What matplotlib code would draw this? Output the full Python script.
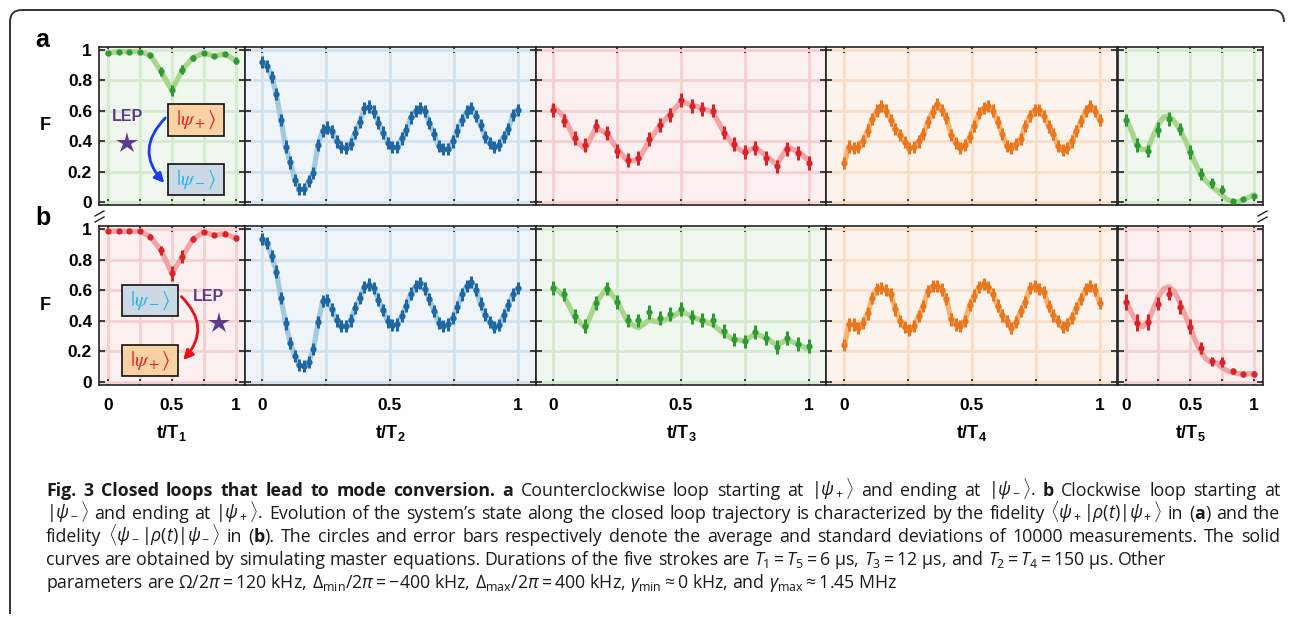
import numpy as np
import matplotlib.pyplot as plt
from matplotlib.patches import Rectangle, FancyArrowPatch, PathPatch
from matplotlib.path import Path
from matplotlib.lines import Line2D

plt.rcParams['font.family'] = ['Liberation Sans', 'DejaVu Sans']
plt.rcParams['mathtext.fontset'] = 'custom'
plt.rcParams['mathtext.rm'] = 'Open Sans'
plt.rcParams['mathtext.it'] = 'Open Sans:italic'
plt.rcParams['mathtext.bf'] = 'Liberation Sans:bold'

# ---------------- data ----------------
# stroke 1 (T1), 13 samples
t1 = np.linspace(0, 1, 13)
f1a = [0.98, 0.99, 0.99, 0.99, 0.965, 0.86, 0.735, 0.87, 0.95, 0.98, 0.96, 0.975, 0.93]
e1a = [0.012, 0.01, 0.01, 0.01, 0.015, 0.03, 0.035, 0.03, 0.02, 0.012, 0.015, 0.012, 0.025]
f1b = [0.985, 0.985, 0.985, 0.985, 0.95, 0.86, 0.71, 0.82, 0.935, 0.98, 0.96, 0.97, 0.94]
e1b = [0.012, 0.01, 0.01, 0.01, 0.015, 0.03, 0.05, 0.04, 0.02, 0.015, 0.015, 0.015, 0.02]

# stroke 2 (T2), 56 samples
t2 = np.linspace(0, 1, 56)
f2a = [0.923, 0.895, 0.825, 0.711, 0.54, 0.365, 0.26, 0.147, 0.085, 0.085,
       0.14, 0.19, 0.376, 0.47, 0.49, 0.464, 0.398, 0.36, 0.355, 0.383,
       0.457, 0.527, 0.617, 0.628, 0.595, 0.523, 0.457, 0.39, 0.36, 0.36,
       0.418, 0.475, 0.556, 0.60, 0.617, 0.60, 0.519, 0.446, 0.37, 0.348,
       0.348, 0.398, 0.47, 0.54, 0.595, 0.617, 0.567, 0.508, 0.43, 0.387,
       0.36, 0.374, 0.43, 0.479, 0.573, 0.606]
f2b = [0.935, 0.909, 0.826, 0.722, 0.55, 0.383, 0.257, 0.17, 0.109, 0.104,
       0.13, 0.213, 0.39, 0.528, 0.535, 0.474, 0.402, 0.365, 0.365, 0.402,
       0.485, 0.55, 0.622, 0.637, 0.615, 0.539, 0.47, 0.396, 0.37, 0.376,
       0.43, 0.5, 0.578, 0.626, 0.648, 0.611, 0.543, 0.463, 0.387, 0.365,
       0.376, 0.42, 0.489, 0.572, 0.626, 0.652, 0.604, 0.513, 0.441, 0.391,
       0.361, 0.37, 0.435, 0.502, 0.572, 0.613]
e2 = 0.04

# stroke 3 (T3), 25 samples, dots and simulated curve
t3 = np.linspace(0, 1, 25)
f3a = [0.606, 0.536, 0.42, 0.376, 0.503, 0.453, 0.337, 0.274, 0.289, 0.414, 0.508, 0.573, 0.672,
       0.632, 0.613, 0.602, 0.457, 0.383, 0.328, 0.355, 0.289, 0.234, 0.348, 0.322, 0.256]
c3a = [0.628, 0.562, 0.41, 0.348, 0.49, 0.45, 0.35, 0.267, 0.278, 0.40, 0.503, 0.58, 0.661,
       0.639, 0.617, 0.589, 0.464, 0.365, 0.326, 0.361, 0.304, 0.245, 0.361, 0.333, 0.274]
f3b = [0.615, 0.572, 0.43, 0.365, 0.517, 0.611, 0.522, 0.402, 0.402, 0.457, 0.417, 0.443, 0.478,
       0.426, 0.404, 0.404, 0.333, 0.278, 0.265, 0.328, 0.289, 0.23, 0.285, 0.25, 0.235]
c3b = [0.622, 0.561, 0.426, 0.354, 0.517, 0.615, 0.528, 0.391, 0.354, 0.404, 0.391, 0.42, 0.463,
       0.43, 0.4, 0.376, 0.317, 0.274, 0.272, 0.315, 0.289, 0.239, 0.278, 0.246, 0.213]
e3 = 0.045

# stroke 4 (T4), 56 samples
t4 = np.linspace(0, 1, 56)
f4a = [0.256, 0.365, 0.354, 0.361, 0.403, 0.47, 0.545, 0.602, 0.632, 0.602,
       0.54, 0.479, 0.442, 0.392, 0.354, 0.361, 0.398, 0.446, 0.529, 0.595,
       0.643, 0.606, 0.551, 0.442, 0.387, 0.354, 0.376, 0.427, 0.501, 0.584,
       0.617, 0.632, 0.602, 0.529, 0.446, 0.37, 0.354, 0.381, 0.416, 0.501,
       0.567, 0.606, 0.606, 0.567, 0.497, 0.446, 0.37, 0.344, 0.354, 0.398,
       0.468, 0.534, 0.6, 0.632, 0.6, 0.54]
f4b = [0.24, 0.376, 0.376, 0.354, 0.387, 0.448, 0.55, 0.609, 0.615, 0.6,
       0.572, 0.474, 0.398, 0.361, 0.339, 0.365, 0.43, 0.496, 0.593, 0.626,
       0.63, 0.604, 0.543, 0.409, 0.376, 0.365, 0.398, 0.502, 0.565, 0.622,
       0.643, 0.622, 0.572, 0.5, 0.435, 0.398, 0.354, 0.391, 0.463, 0.522,
       0.615, 0.63, 0.609, 0.587, 0.496, 0.435, 0.398, 0.361, 0.376, 0.42,
       0.485, 0.543, 0.609, 0.63, 0.604, 0.517]
e4 = 0.04

# stroke 5 (T5), 13 samples, curve on a finer grid
t5 = np.linspace(0, 1, 13)
f5a = [0.54, 0.374, 0.333, 0.475, 0.547, 0.479, 0.328, 0.184, 0.125, 0.081, 0.007, 0.02, 0.04]
e5a = [0.04, 0.045, 0.04, 0.05, 0.045, 0.04, 0.045, 0.04, 0.03, 0.03, 0.01, 0.01, 0.015]
f5b = [0.522, 0.387, 0.393, 0.513, 0.578, 0.489, 0.361, 0.224, 0.135, 0.13, 0.072, 0.05, 0.054]
e5b = [0.05, 0.055, 0.05, 0.045, 0.04, 0.045, 0.05, 0.04, 0.03, 0.03, 0.02, 0.015, 0.02]
tc5 = np.linspace(0, 1, 25)
c5a = [0.54, 0.464, 0.37, 0.344, 0.35, 0.433, 0.51, 0.56, 0.567, 0.53, 0.48, 0.41, 0.328,
       0.252, 0.18, 0.136, 0.103, 0.077, 0.044, 0.015, 0.002, 0.0, 0.015, 0.03, 0.048]
c5b = [0.528, 0.448, 0.387, 0.361, 0.391, 0.474, 0.557, 0.609, 0.622, 0.593, 0.522, 0.441, 0.354,
       0.267, 0.196, 0.148, 0.13, 0.122, 0.093, 0.072, 0.061, 0.054, 0.053, 0.053, 0.055]

xticks = [0, 0.25, 0.5, 0.75, 1]
xticklabels = ['0', '', '0.5', '', '1']
yticks = [0, 0.2, 0.4, 0.6, 0.8, 1]
yticklabels = ['0', '0.2', '0.4', '0.6', '0.8', '1']
xlabels = [r'$\mathbf{t/T_1}$', r'$\mathbf{t/T_2}$', r'$\mathbf{t/T_3}$', r'$\mathbf{t/T_4}$', r'$\mathbf{t/T_5}$']

palette = {
    'green': dict(face='#f0f7ee', grid='#d6eacf', dot='#2f9a35', line='#a9d68c'),
    'blue': dict(face='#eff4f9', grid='#d2e1ee', dot='#1f67a3', line='#a3cbe0'),
    'red': dict(face='#fbefef', grid='#f6d0d0', dot='#d8232a', line='#f2a3a3'),
    'orange': dict(face='#fcf3ec', grid='#f8ddc7', dot='#e9771f', line='#f6b46e'),
}

rows = [
    [(t1, f1a, e1a, t1, f1a, 'green'), (t2, f2a, e2, t2, f2a, 'blue'),
     (t3, f3a, e3, t3, c3a, 'red'), (t4, f4a, e4, t4, f4a, 'orange'),
     (t5, f5a, e5a, tc5, c5a, 'green')],
    [(t1, f1b, e1b, t1, f1b, 'red'), (t2, f2b, e2, t2, f2b, 'blue'),
     (t3, f3b, e3, t3, c3b, 'green'), (t4, f4b, e4, t4, f4b, 'orange'),
     (t5, f5b, e5b, tc5, c5b, 'red')],
]

# ---------------- layout (pixels) ----------------
W, H = 1292, 620
fig = plt.figure(figsize=(W / 100, H / 100), dpi=100)


def px_rect(x, y, w, h):
    return [x / W, 1 - (y + h) / H, w / W, h / H]


col_left = [99, 244.5, 535.5, 826.5, 1117.5]
col_width = [145.5, 291, 291, 291, 145.5]
row_top = [47, 226]
row_height = [158, 159]

axes = {}
for r, panels in enumerate(rows):
    for c, (t, f, e, tc, fc, col) in enumerate(panels):
        st = palette[col]
        ax = fig.add_axes(px_rect(col_left[c], row_top[r], col_width[c], row_height[r]))
        ax.set_facecolor(st['face'])
        ax.grid(True, color=st['grid'], lw=2)
        ax.set_axisbelow(True)
        ax.plot(tc, fc, color=st['line'], lw=3.8, solid_capstyle='round', zorder=2)
        ax.errorbar(t, f, yerr=e, fmt='o', color=st['dot'], ms=4.5, mew=0,
                    elinewidth=2.2, capsize=0, zorder=3)
        ax.set_xlim(-0.07, 1.07)
        ax.set_ylim(-0.02, 1.02)
        ax.set_xticks(xticks)
        ax.set_yticks(yticks)
        ax.tick_params(direction='in', length=4, width=1.2, top=True, right=True,
                       color='#222222')
        ax.tick_params(axis='x', pad=9)
        ax.tick_params(axis='y', pad=5)
        for sp in ax.spines.values():
            sp.set_linewidth(1.2)
            sp.set_color('#222222')
        if r == 1:
            ax.set_xticklabels(xticklabels, fontsize=12.5, fontweight='bold')
            ax.set_xlabel(xlabels[c], fontsize=13)
            ax.xaxis.set_label_coords(0.5, -0.30)
            ax.xaxis.label.set_va('center')
        else:
            ax.set_xticklabels([])
        if c == 0:
            ax.set_yticklabels(yticklabels, fontsize=12.5, fontweight='bold')
            ax.set_ylabel('F', fontsize=13, fontweight='bold', rotation=0,
                          ha='center', va='center')
            ax.yaxis.set_label_coords(-0.37, 0.5)
        else:
            ax.set_yticklabels([])
        axes[(r, c)] = ax

# ---------------- insets in the first column ----------------
purple = '#5e3a8c'
ket_p = r'$|\psi_+\rangle$'
ket_m = r'$|\psi_-\rangle$'


def ket_box(ax, x0, x1, y0, y1, face, label, color):
    ax.add_patch(Rectangle((x0, y0), x1 - x0, y1 - y0, facecolor=face, edgecolor='#111111',
                           lw=1.2, zorder=5))
    ax.text((x0 + x1) / 2, (y0 + y1) / 2, label, color=color, fontsize=15,
            math_fontfamily='stix', ha='center', va='center', zorder=6)


ax = axes[(0, 0)]
ket_box(ax, 0.47, 0.913, 0.434, 0.645, '#f8d2a2', ket_p, '#e8202a')
ket_box(ax, 0.47, 0.913, 0.046, 0.25, '#cbd9e4', ket_m, '#2ab4e6')
ax.add_patch(FancyArrowPatch((0.465, 0.566), (0.457, 0.112), connectionstyle='arc3,rad=0.5',
                             arrowstyle='-|>', mutation_scale=14, color='#1a3cf0', lw=2, zorder=6))
ax.text(0.15, 0.56, 'LEP', color=purple, fontsize=11.5, fontweight='bold', ha='center', va='center')
ax.plot([0.15], [0.39], marker='*', ms=16, color=purple, mew=0)

ax = axes[(1, 0)]
ket_box(ax, 0.11, 0.55, 0.429, 0.636, '#cbd9e4', ket_m, '#2ab4e6')
ket_box(ax, 0.11, 0.55, 0.04, 0.24, '#f8d2a2', ket_p, '#e8202a')
ax.add_patch(FancyArrowPatch((0.56, 0.571), (0.575, 0.13), connectionstyle='arc3,rad=-0.5',
                             arrowstyle='-|>', mutation_scale=14, color='#e8101a', lw=2, zorder=6))
ax.text(0.79, 0.56, 'LEP', color=purple, fontsize=11.5, fontweight='bold', ha='center', va='center')
ax.plot([0.874], [0.383], marker='*', ms=16, color=purple, mew=0)

# ---------------- panel letters, breaks, frame ----------------
fig.text(42 / W, 1 - 40 / H, 'a', fontsize=18, fontweight='bold', ha='center', va='center')
fig.text(43 / W, 1 - 218 / H, 'b', fontsize=18, fontweight='bold', ha='center', va='center')


def fig_line(xs, ys, **kw):
    fig.add_artist(Line2D([x / W for x in xs], [1 - y / H for y in ys],
                          transform=fig.transFigure, **kw))


for dx in (95, 1258):
    fig_line([dx, dx + 9], [216, 211], color='#222222', lw=1)
    fig_line([dx, dx + 9], [222, 217], color='#222222', lw=1)

frame_pts = [(10, 614), (10, 22), (10, 10), (22, 10), (1272, 10), (1284, 10), (1284, 22)]
frame_codes = [Path.MOVETO, Path.LINETO, Path.CURVE3, Path.CURVE3, Path.LINETO, Path.CURVE3, Path.CURVE3]
frame = Path([(x / W, 1 - y / H) for x, y in frame_pts], frame_codes)
fig.add_artist(PathPatch(frame, transform=fig.transFigure, fill=False, edgecolor='#333333', lw=1.4))

# ---------------- caption (first three lines justified) ----------------
caption = [
    ("*Fig. 3 Closed loops that lead to mode conversion. a* Counterclockwise loop starting at "
     r"$|\psi_+\rangle$ and ending at $|\psi_-\rangle$. *b* Clockwise loop starting at", True),
    (r"$|\psi_-\rangle$ and ending at $|\psi_+\rangle$. Evolution of the system’s state along the "
     r"closed loop trajectory is characterized by the fidelity $\langle\psi_+|\rho(t)|\psi_+\rangle$ "
     "in (*a*) and the", True),
    (r"fidelity $\langle\psi_-|\rho(t)|\psi_-\rangle$ in (*b*). The circles and error bars respectively "
     "denote the average and standard deviations of 10000 measurements. The solid", True),
    ("curves are obtained by simulating master equations. Durations of the five strokes are "
     r"$T_1 = T_5 = 6$~μs, $T_3 = 12$~μs, and $T_2 = T_4 = 150$~μs. Other", False),
    (r"parameters are $\Omega/2\pi = 120$~kHz, $\Delta_{\mathrm{min}}/2\pi = -400$~kHz, "
     r"$\Delta_{\mathrm{max}}/2\pi = 400$~kHz, $\gamma_{\mathrm{min}} \approx 0$~kHz, and "
     r"$\gamma_{\mathrm{max}} \approx 1.45$~MHz", False),
]
cap_baselines = [496, 519, 542, 565, 588]


def split_words(line):
    words, cur, in_math = [], '', False
    for ch in line:
        if ch == '$':
            in_math = not in_math
        if ch == ' ' and not in_math:
            words.append(cur)
            cur = ''
        else:
            cur += ch
    words.append(cur)
    return words


def draw_caption(lines, baselines, x0, x1, size):
    renderer = fig.canvas.get_renderer()
    for (line, justify), yb in zip(lines, baselines):
        bold = False
        words, widths = [], []
        for word in split_words(line):
            segs, ww = [], 0
            for k, part in enumerate(word.split('*')):
                if k > 0:
                    bold = not bold
                if not part:
                    continue
                txt = fig.text(0, 1 - yb / H, part.replace('~', ' '), fontsize=size,
                               family='Open Sans', fontweight='bold' if bold else 'normal',
                               va='baseline', ha='left', color='#1a1a1a')
                w = txt.get_window_extent(renderer).width
                segs.append((txt, w))
                ww += w
            words.append(segs)
            widths.append(ww)
        space = size * 100 / 72 * 0.26
        if justify:
            gap = max(space * 0.6, (x1 - x0 - sum(widths)) / (len(words) - 1))
        else:
            gap = space
        x = x0
        for segs, ww in zip(words, widths):
            xx = x
            for txt, w in segs:
                txt.set_x(xx / W)
                xx += w
            x += ww + gap


draw_caption(caption, cap_baselines, 46, 1280, 12.8)

fig.savefig('out.png', dpi=100)
